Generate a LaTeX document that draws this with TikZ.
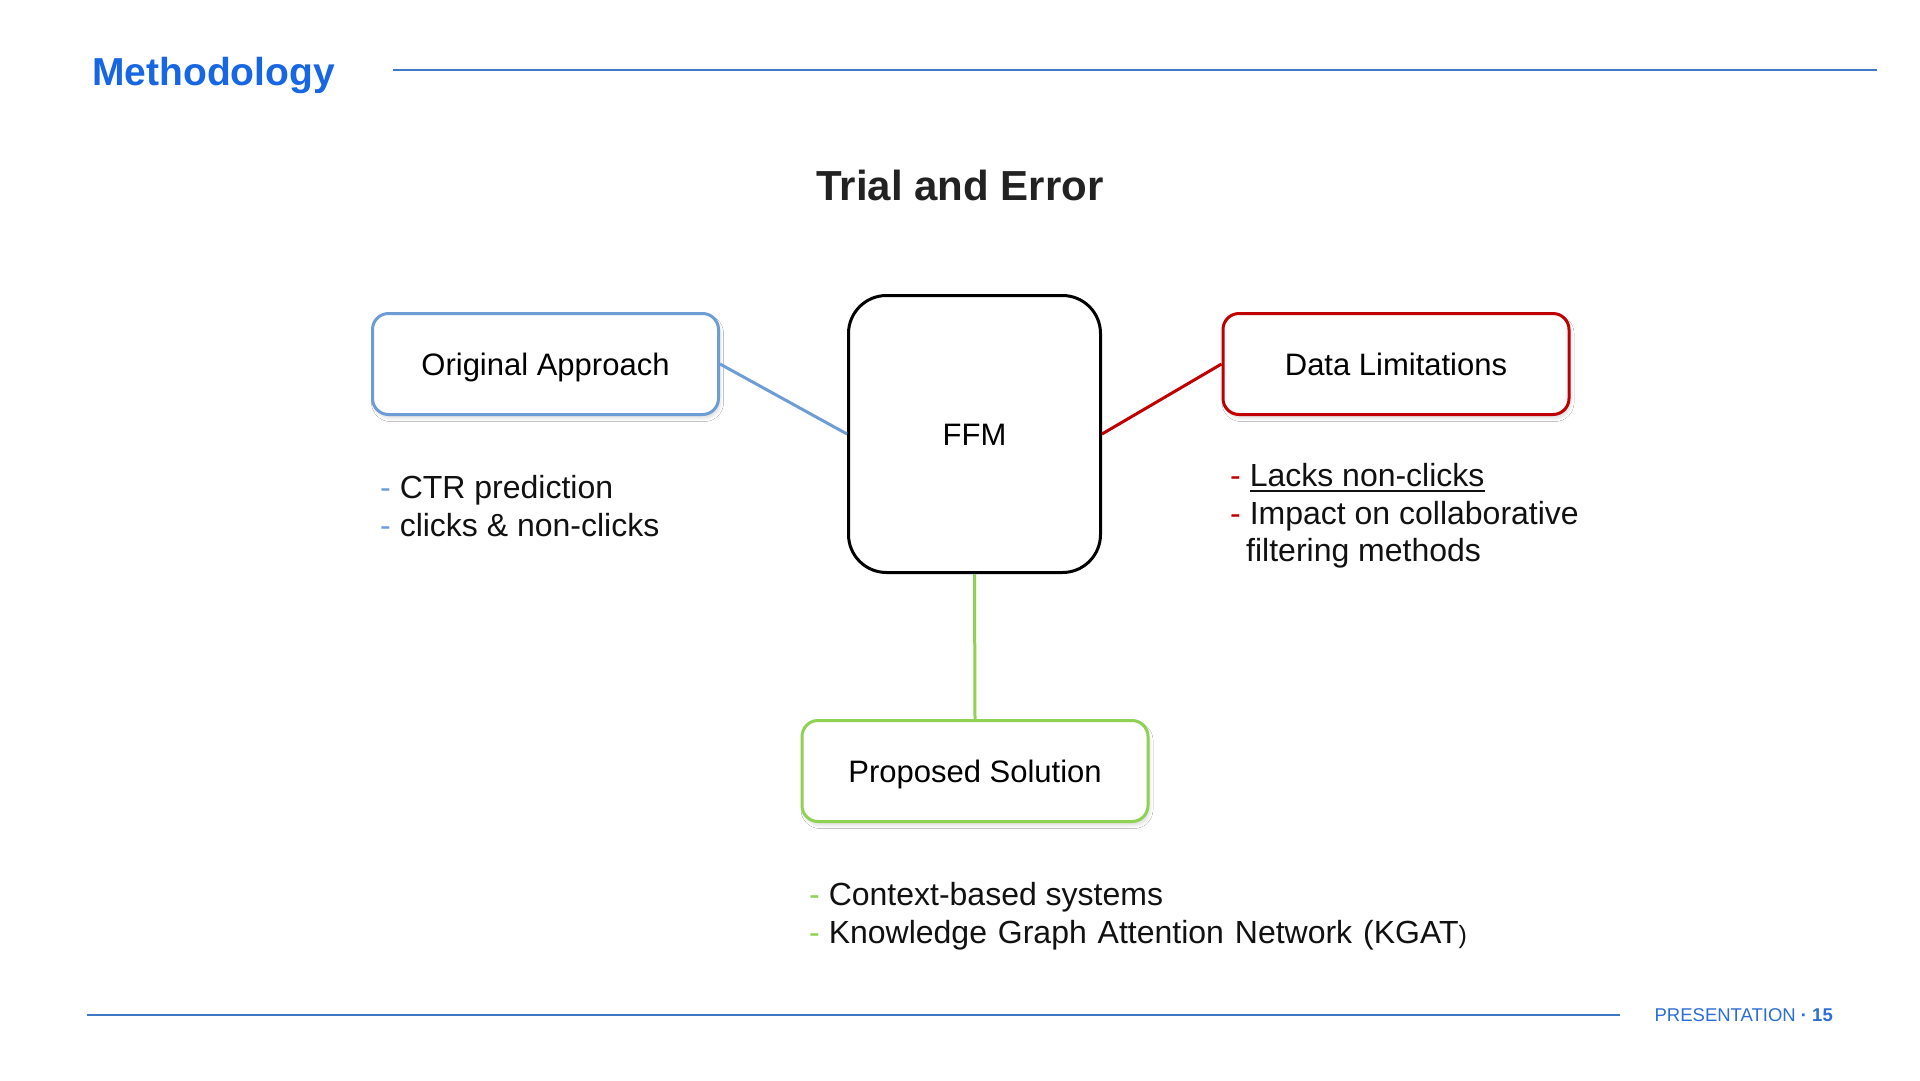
\documentclass[tikz,border=0pt]{standalone}
\usepackage{fontspec}
\setmainfont{Liberation Sans}
\usetikzlibrary{shadows.blur}
\definecolor{hdrblue}{HTML}{1766E3}
\definecolor{rulblue}{HTML}{3F78C6}
\definecolor{oabl}{HTML}{6E9DD6}
\definecolor{dlred}{HTML}{C00000}
\definecolor{psgr}{HTML}{8FD152}
\definecolor{ink}{HTML}{111111}
\definecolor{ttl}{HTML}{222222}
\definecolor{ftblue}{HTML}{2C6ED5}
\newcommand\tfbody{\fontsize{31}{38}\selectfont}
\newcommand\tfbullet{\fontsize{32}{38}\selectfont}
\newcommand\myunder[1]{\setbox0\hbox{#1}\rlap{\rule[-5.5pt]{\wd0}{1.8pt}}\box0}
\begin{document}
\begin{tikzpicture}[x=1pt,y=-1pt,
  sidebox/.style={draw, line width=3pt, rounded corners=16pt,
    minimum width=346pt, minimum height=101pt, fill=white,
    font=\tfbody, text=black, text height=22pt, text depth=0pt, inner sep=0pt,
    blur shadow={shadow xshift=2pt, shadow yshift=-4pt, shadow blur radius=3pt, shadow opacity=12}},
  corebox/.style={draw=black, line width=3pt, rounded corners=38pt,
    minimum width=252pt, minimum height=277pt, fill=white,
    font=\tfbody, text=black, text height=22pt, text depth=0pt, inner sep=0pt},
  conn/.style={line width=3pt},
  txt/.style={anchor=base west, inner sep=0pt, font=\tfbullet, text=ink},
  hrule/.style={draw=rulblue, line width=1.4pt}
]
\fill[white] (0,0) rectangle (1920,1080);
\useasboundingbox (0,0) rectangle (1920,1080);

% header and footer
\node[anchor=base west, inner sep=0pt, text=hdrblue, font=\fontsize{39}{39}\selectfont\bfseries] (hdr) at (92,85) {Methodology};
\coordinate (hl1) at (393,70);
\coordinate (hl2) at (1877,70);
\draw[hrule] (hl1) -- (hl2);
\coordinate (fl1) at (87,1015);
\coordinate (fl2) at (1620,1015);
\draw[hrule] (fl1) -- (fl2);
\node[anchor=base east, inner sep=0pt, text=ftblue, font=\fontsize{18.5}{18.5}\selectfont] (ftr) at (1833,1021) {PRESENTATION \textbf{·} \textbf{15}};

% title
\node[anchor=base, inner sep=0pt, text=ttl, font=\fontsize{42}{42}\selectfont\bfseries] (ttl) at (960,200) {Trial and Error};

% boxes
\node[corebox] (ffm) at (974.5,434) {FFM};
\node[sidebox, draw=oabl] (oa) at (545.5,364) {Original Approach};
\node[sidebox, draw=dlred] (dl) at (1396,364) {Data Limitations};
\node[sidebox, draw=psgr] (ps) at (975,771) {Proposed Solution};

% connectors
\draw[conn, draw=oabl] (oa.east) -- (ffm.west);
\draw[conn, draw=dlred] (ffm.east) -- (dl.west);
\draw[conn, draw=psgr] (ffm.south) -- (ps.north);

% bullet texts
\node[txt] (oa1) at (380,498) {{\color{oabl}-} CTR prediction};
\node[txt] (oa2) at (380,536) {{\color{oabl}-} clicks \& non-clicks};

\node[txt] (dl1) at (1230,486) {{\color{dlred}-} \myunder{Lacks non-clicks}};
\node[txt] (dl2) at (1230,524) {{\color{dlred}-} Impact on collaborative};
\node[txt] (dl3) at (1246,561) {filtering methods};

\node[txt] (ps1) at (809,905) {{\color{psgr}-} Context-based systems};
\node[txt] (ps2) at (809,943) {{\color{psgr}-} {\spaceskip=0.34em\relax Knowledge Graph Attention Network (KGAT{\fontsize{25}{25}\selectfont)}}};
\end{tikzpicture}
\end{document}
